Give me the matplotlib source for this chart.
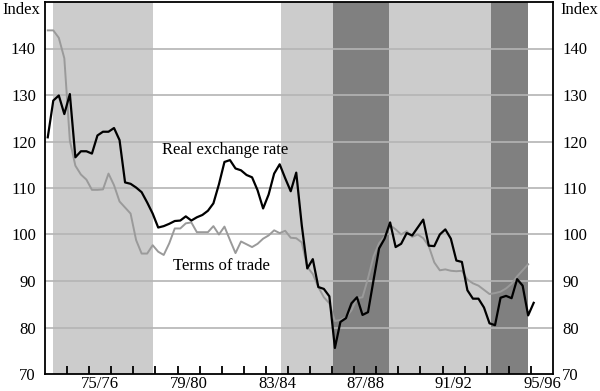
import matplotlib
matplotlib.use("Agg")
import matplotlib.pyplot as plt
import numpy as np
import pandas as pd

# Quarterly data, starting September quarter 1973
start_quarter = "1973Q3"

real_exchange_rate = [
    120.9, 128.8, 129.9, 125.9, 130.2, 116.6, 117.9, 117.9, 117.4, 121.3,
    122.1, 122.1, 122.9, 120.3, 111.2, 110.9, 110.1, 109.1, 106.9, 104.5,
    101.5, 101.8, 102.3, 102.9, 103.0, 103.9, 103.0, 103.7, 104.2, 105.1,
    106.7, 110.8, 115.6, 116.0, 114.2, 113.8, 112.8, 112.3, 109.5, 105.6,
    108.6, 113.1, 115.1, 112.1, 109.3, 113.3, 102.0, 92.7, 94.7, 88.7,
    88.3, 86.7, 75.6, 81.2, 82.0, 85.2, 86.5, 82.7, 83.3, 90.2,
    97.0, 99.1, 102.6, 97.3, 98.0, 100.3, 99.8, 101.5, 103.2, 97.6,
    97.5, 100.0, 101.1, 99.1, 94.4, 94.1, 88.0, 86.2, 86.2, 84.3,
    80.9, 80.5, 86.4, 86.8, 86.3, 90.4, 89.0, 82.6, 85.3,
]

terms_of_trade = [
    143.9, 143.9, 142.3, 137.9, 120.2, 114.8, 112.9, 111.8, 109.6, 109.6,
    109.7, 113.1, 110.6, 107.1, 105.8, 104.5, 98.8, 95.9, 95.9, 97.7,
    96.3, 95.6, 98.1, 101.3, 101.3, 102.4, 102.6, 100.5, 100.5, 100.5,
    101.8, 100.0, 101.7, 98.8, 96.0, 98.5, 97.9, 97.3, 98.0, 99.1,
    99.8, 100.9, 100.3, 100.8, 99.3, 99.2, 98.3, 93.0, 91.5, 88.7,
    86.5, 85.2, 81.4, 81.6, 82.2, 83.7, 86.3, 86.5, 90.6, 95.3,
    98.1, 99.6, 102.0, 101.1, 100.0, 100.7, 99.5, 100.0, 99.2, 97.5,
    94.0, 92.3, 92.5, 92.2, 92.1, 92.2, 90.3, 89.5, 89.0, 88.1,
    87.2, 87.4, 87.7, 88.4, 89.4, 91.0, 92.3, 93.6,
]

# Shaded periods (decimal years)
light_periods = [(1973.88, 1978.39), (1984.18, 1986.52), (1989.09, 1993.68)]
dark_periods = [(1986.52, 1989.09), (1993.68, 1995.38)]

tick_labels = ["75/76", "79/80", "83/84", "87/88", "91/92", "95/96"]
tick_label_pos = [1976, 1980, 1984, 1988, 1992, 1996]
y_ticks = [70, 80, 90, 100, 110, 120, 130, 140]

def quarter_positions(n):
    q = pd.period_range(start_quarter, periods=n, freq="Q")
    return np.array([p.year + (p.quarter - 0.5) / 4 for p in q])

x_rer = quarter_positions(len(real_exchange_rate))
x_tot = quarter_positions(len(terms_of_trade))

plt.rcParams["font.family"] = ["Liberation Serif", "DejaVu Serif"]
plt.rcParams["font.size"] = 12

fig = plt.figure(figsize=(6, 3.91), dpi=100)
ax = fig.add_axes([45 / 600, 17 / 391, 508 / 600, 372 / 391])

for a, b in light_periods:
    ax.axvspan(a, b, color="#cccccc", lw=0, zorder=0)
for a, b in dark_periods:
    ax.axvspan(a, b, color="#808080", lw=0, zorder=0)

for y in y_ticks[1:]:
    ax.axhline(y, color="#b4b4b4", lw=1.2, zorder=1)

ax.plot(x_tot, terms_of_trade, color="#9a9a9a", lw=1.4, zorder=3)
ax.plot(x_rer, real_exchange_rate, color="black", lw=1.6, zorder=4)

ax.set_xlim(1973.5, 1996.5)
ax.set_ylim(70, 150)

ax.set_yticks(y_ticks)
ax.set_yticklabels([str(v) for v in y_ticks])
ax.tick_params(axis="y", which="both", length=0, labelleft=True, labelright=True, pad=6.5)

major = np.arange(1974.5, 1996.0, 1.0)
ax.set_xticks(major)
ax.set_xticklabels([""] * len(major))
ax.set_xticks(tick_label_pos, minor=True)
ax.set_xticklabels(tick_labels, minor=True)
ax.tick_params(axis="x", which="major", direction="in", length=6, width=1.3, color="black")
ax.tick_params(axis="x", which="minor", length=0, pad=1.5)

for s in ax.spines.values():
    s.set_linewidth(1.3)
    s.set_color("black")

ax.text(1981.65, 118.1, "Real exchange rate", ha="center", va="center", zorder=5)
ax.text(1981.47, 93.2, "Terms of trade", ha="center", va="center", zorder=5)

fig.text(2 / 600, 1 - 10 / 391, "Index", ha="left", va="center")
fig.text(598 / 600, 1 - 10 / 391, "Index", ha="right", va="center")

fig.savefig("out.png", dpi=100)
